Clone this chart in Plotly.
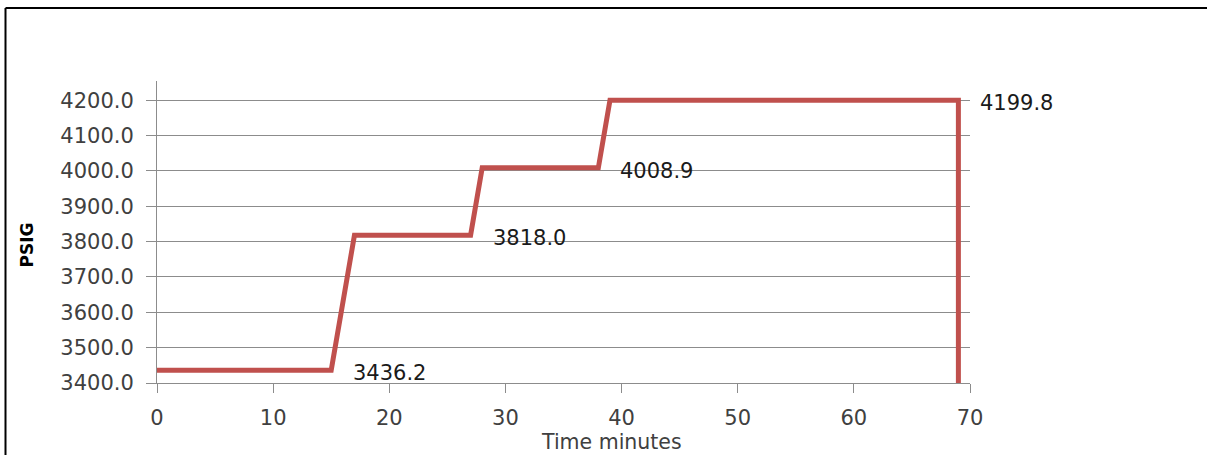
import plotly.graph_objects as go

# Data
time_min = [0, 15, 17, 27, 28, 38, 39, 69, 69]
psig = [3436.2, 3436.2, 3818.0, 3818.0, 4008.9, 4008.9, 4199.8, 4199.8, 3400.0]
label_idx = [1, 3, 5, 7]
x_ticks = [0, 10, 20, 30, 40, 50, 60, 70]
y_ticks = [3400, 3500, 3600, 3700, 3800, 3900, 4000, 4100, 4200]

W, H = 1207, 455
L, R, T, B = 157, 970, 81, 383
pw, ph = R - L, B - T

FONT = "DejaVu Sans"
GRID = "#8c8c8c"

fig = go.Figure()
fig.add_trace(go.Scatter(
    x=time_min, y=psig, mode="lines",
    line=dict(color="#C0504D", width=5),
    hoverinfo="skip", showlegend=False,
))

for i in label_idx:
    fig.add_annotation(
        x=time_min[i], y=psig[i], xref="x", yref="y",
        text=f"{psig[i]:.1f}", showarrow=False,
        xanchor="left", yanchor="middle", xshift=20, yshift=-3,
        font=dict(family=FONT, size=21, color="#1a1a1a"),
    )

def px_x(px):
    return (px - L) / pw

def px_y(py):
    return (B - py) / ph

# Axis titles
fig.add_annotation(
    x=px_x(611.5), y=px_y(442), xref="paper", yref="paper",
    text="Time minutes", showarrow=False, xanchor="center", yanchor="middle",
    font=dict(family=FONT, size=20.5, color="#404040"),
)
fig.add_annotation(
    x=px_x(26), y=px_y(245.5), xref="paper", yref="paper",
    text="<b>PSIG</b>", showarrow=False, textangle=-90,
    xanchor="center", yanchor="middle",
    font=dict(family=FONT, size=17, color="#000000"),
)

# Chart border (top and left visible)
fig.add_shape(type="line", xref="paper", yref="paper",
              x0=px_x(5.5), x1=px_x(1300), y0=px_y(8), y1=px_y(8),
              line=dict(color="#000000", width=2))
fig.add_shape(type="line", xref="paper", yref="paper",
              x0=px_x(5.5), x1=px_x(5.5), y0=px_y(8), y1=px_y(500),
              line=dict(color="#000000", width=2))

y_top = 3400 + ph / (282.7 / 800)

fig.update_layout(
    width=W, height=H,
    margin=dict(l=L, r=W - R, t=T, b=H - B),
    paper_bgcolor="white", plot_bgcolor="white",
    xaxis=dict(
        range=[0, 70], tickvals=x_ticks, ticktext=[str(v) for v in x_ticks],
        showgrid=False, zeroline=False,
        showline=True, linecolor=GRID, linewidth=1,
        ticks="outside", ticklen=9, tickcolor=GRID, tickwidth=1,
        tickfont=dict(family=FONT, size=21, color="#404040"),
        ticklabelstandoff=7,
    ),
    yaxis=dict(
        range=[3400, y_top], tickvals=y_ticks,
        ticktext=[f"{v:.1f}" for v in y_ticks],
        showgrid=True, gridcolor=GRID, gridwidth=1, zeroline=False,
        showline=True, linecolor=GRID, linewidth=1,
        ticks="outside", ticklen=10, tickcolor=GRID, tickwidth=1,
        tickfont=dict(family=FONT, size=21, color="#404040"),
        ticklabelstandoff=8,
    ),
)

fig.write_html("out.html", config={"displayModeBar": False},
               post_script="document.body.style.margin='0';")
